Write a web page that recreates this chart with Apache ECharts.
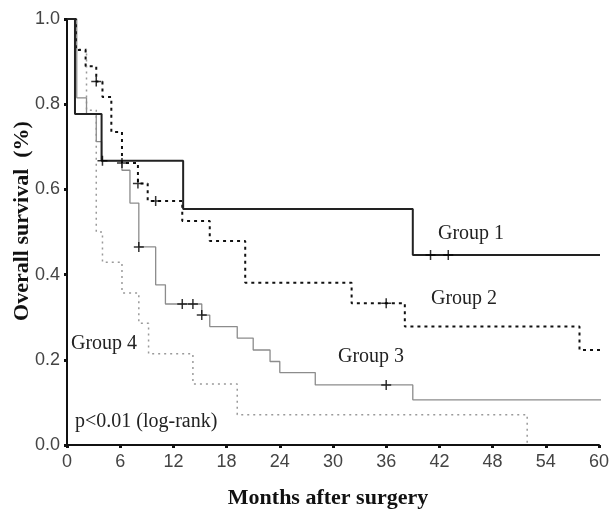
<!DOCTYPE html>
<html><head><meta charset="utf-8">
<script src="https://cdn.jsdelivr.net/npm/echarts@6/dist/echarts.min.js"></script>
<style>html,body{margin:0;padding:0;background:#fff}#c{width:614px;height:512px}</style>
</head><body><div id="c"></div>
<script>
// Kaplan-Meier step data (months, survival)
const g1Times = [0, 0.9, 3.9, 13.1, 39.0, 61.7];
const g1Surv  = [1.0, 0.777, 0.667, 0.554, 0.446, 0.446];
const g1CensT = [41.0, 43.0];
const g1CensS = [0.446, 0.446];

const g2Times = [0, 1.0, 2.1, 3.3, 4.0, 5.0, 6.2, 8.0, 9.1, 13.0, 16.1, 20.1, 32.1, 38.1, 57.8, 61.7];
const g2Surv  = [1.0, 0.927, 0.889, 0.853, 0.817, 0.735, 0.662, 0.614, 0.573, 0.526, 0.479, 0.381, 0.333, 0.278, 0.223, 0.223];
const g2CensT = [3.3, 6.2, 8.0, 10.0, 36.0];
const g2CensS = [0.853, 0.662, 0.614, 0.573, 0.333];

const g3Times = [0, 1.1, 2.2, 3.3, 3.9, 6.2, 7.1, 8.1, 10.0, 11.1, 15.2, 16.1, 19.2, 21.0, 22.9, 24.0, 28.0, 39.0, 61.7];
const g3Surv  = [1.0, 0.815, 0.778, 0.712, 0.667, 0.645, 0.568, 0.465, 0.376, 0.331, 0.305, 0.278, 0.251, 0.223, 0.196, 0.170, 0.141, 0.106, 0.106];
const g3CensT = [4.0, 8.1, 13.0, 14.2, 15.2, 36.0];
const g3CensS = [0.667, 0.465, 0.331, 0.331, 0.305, 0.141];

const g4Times = [0, 1.0, 2.2, 3.3, 4.0, 6.2, 8.1, 9.2, 14.2, 19.2, 51.9];
const g4Surv  = [1.0, 0.929, 0.786, 0.500, 0.429, 0.357, 0.286, 0.214, 0.143, 0.071, 0.0];

const xTicks = [0, 6, 12, 18, 24, 30, 36, 42, 48, 54, 60];
const yTicks = [0.0, 0.2, 0.4, 0.6, 0.8, 1.0];

const zip = (a, b) => a.map((v, i) => [v, b[i]]);
const plus = 'path://M4.25,0H5.75V4.25H10V5.75H5.75V10H4.25V5.75H0V4.25H4.25Z';

const chart = echarts.init(document.getElementById('c'), null, {renderer: 'canvas'});
const tickFont = {fontFamily: 'Liberation Sans', fontSize: 18, color: '#444'};
const serif = 'Liberation Serif';

function steps(name, t, s, color, width, type) {
  return {name, type: 'line', step: 'end', data: zip(t, s), symbol: 'none', clip: false,
    lineStyle: {color, width, type}, z: 3, animation: false};
}
function cens(t, s) {
  return {type: 'scatter', data: zip(t, s), symbol: plus, symbolSize: 10,
    itemStyle: {color: '#000'}, z: 5, animation: false};
}

chart.setOption({
  animation: false,
  grid: {left: 67, right: 15, top: 19, bottom: 67},
  xAxis: {
    type: 'value', min: xTicks[0], max: xTicks[xTicks.length - 1], interval: 6,
    axisLine: {lineStyle: {color: '#111', width: 2}},
    axisTick: {show: true, length: 3, lineStyle: {color: '#111', width: 3}},
    axisLabel: Object.assign({margin: 8}, tickFont),
    splitLine: {show: false}
  },
  yAxis: {
    type: 'value', min: yTicks[0], max: yTicks[yTicks.length - 1], interval: 0.2,
    axisLine: {show: true, lineStyle: {color: '#111', width: 2}},
    axisTick: {show: true, length: 3, lineStyle: {color: '#111', width: 3}},
    axisLabel: Object.assign({margin: 7, formatter: v => v.toFixed(1)}, tickFont),
    splitLine: {show: false}
  },
  series: [
    steps('Group 4', g4Times, g4Surv, '#9a9a9a', 1.5, [2, 4]),
    steps('Group 3', g3Times, g3Surv, '#8c8c8c', 1.3, 'solid'),
    steps('Group 2', g2Times, g2Surv, '#111', 2, [3, 4]),
    steps('Group 1', g1Times, g1Surv, '#222', 2, 'solid'),
    cens(g1CensT, g1CensS), cens(g2CensT, g2CensS), cens(g3CensT, g3CensS)
  ],
  graphic: [
    {type: 'text', left: 438, top: 224, style: {text: 'Group 1', font: '20px "Liberation Serif"', fill: '#222'}},
    {type: 'text', left: 431, top: 289, style: {text: 'Group 2', font: '20px "Liberation Serif"', fill: '#222'}},
    {type: 'text', left: 338, top: 347, style: {text: 'Group 3', font: '20px "Liberation Serif"', fill: '#222'}},
    {type: 'text', left: 71, top: 334, style: {text: 'Group 4', font: '20px "Liberation Serif"', fill: '#222'}},
    {type: 'text', left: 75, top: 412, style: {text: 'p<0.01 (log-rank)', font: '20px "Liberation Serif"', fill: '#222'}},
    {type: 'text', x: 328, y: 498, style: {text: 'Months after surgery', font: 'bold 22px "Liberation Serif"', fill: '#111', align: 'center', verticalAlign: 'middle'}},
    {type: 'text', x: 22, y: 221, rotation: Math.PI / 2, style: {text: 'Overall survival  (%)', font: 'bold 22px "Liberation Serif"', fill: '#111', align: 'center', verticalAlign: 'middle'}}
  ]
});
</script></body></html>
